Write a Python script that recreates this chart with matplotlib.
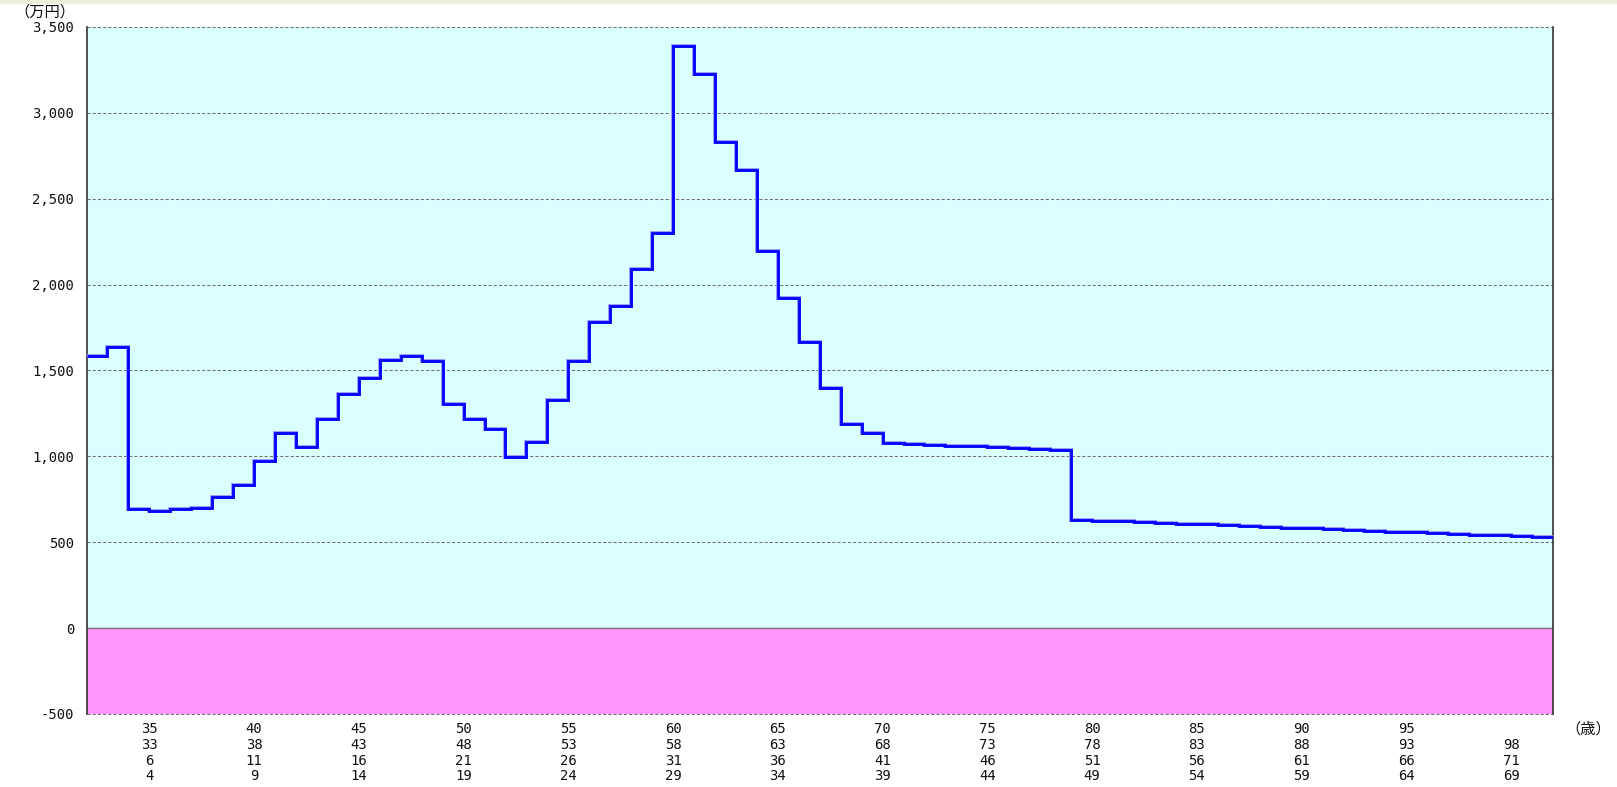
import matplotlib
matplotlib.use("Agg")
import matplotlib.pyplot as plt
import matplotlib.patheffects as pe
from matplotlib.patches import Rectangle
from matplotlib.transforms import blended_transform_factory

# one value per year, first step starts at age 32 (万円)
start_age = 32
balance = [1581, 1635, 695, 680, 695, 701, 762, 831, 974, 1134,
           1056, 1217, 1364, 1453, 1558, 1583, 1554, 1306, 1215, 1158,
           996, 1081, 1327, 1554, 1779, 1872, 2089, 2297, 3390, 3223,
           2829, 2669, 2194, 1920, 1663, 1395, 1186, 1134, 1079, 1070,
           1066, 1060, 1058, 1054, 1048, 1043, 1037, 628, 622, 621,
           618, 612, 606, 605, 599, 593, 587, 581, 580, 577,
           571, 566, 560, 558, 554, 548, 542, 540, 537, 529]

tick_ages = [35, 40, 45, 50, 55, 60, 65, 70, 75, 80, 85, 90, 95, 100]
row1 = ["35", "40", "45", "50", "55", "60", "65", "70", "75", "80", "85", "90", "95", ""]
row2 = ["33", "38", "43", "48", "53", "58", "63", "68", "73", "78", "83", "88", "93", "98"]
row3 = ["6", "11", "16", "21", "26", "31", "36", "41", "46", "51", "56", "61", "66", "71"]
row4 = ["4", "9", "14", "19", "24", "29", "34", "39", "44", "49", "54", "59", "64", "69"]
yticks = [-500, 0, 500, 1000, 1500, 2000, 2500, 3000, 3500]

LABEL_FONT = ["DejaVu Sans Mono"]
CJK_FONT = ["Noto Sans CJK JP", "DejaVu Sans"]

fig = plt.figure(figsize=(16.17, 7.87), dpi=100)
fig.patches.append(Rectangle((0, 1 - 3 / 787), 1, 3 / 787, transform=fig.transFigure,
                             color="#EEEEDC", zorder=0))
ax = fig.add_axes([0.0535, 0.0928, 0.9069, 0.8731])

edges = list(range(start_age, start_age + len(balance) + 1))
ax.set_xlim(edges[0], edges[-1])
ax.set_ylim(yticks[0], yticks[-1])

# plus / minus background
ax.axhspan(0, yticks[-1], color="#D9FFFF", zorder=0)
ax.axhspan(yticks[0], 0, color="#FF97FF", zorder=0)

for v in yticks:
    if v == 0:
        ax.axhline(v, color="#707070", lw=0.9, zorder=1)
    else:
        ax.axhline(v, color="#707070", lw=0.75, ls=(0, (3, 2)), zorder=1, clip_on=False)

ax.stairs(balance, edges, baseline=None, color="#0000FF", lw=2.0, zorder=3,
          path_effects=[pe.Stroke(linewidth=2.8, foreground="#9A9AFF"), pe.Normal()])

ax.set_xticks([])
ax.set_yticks(yticks)
ax.set_yticklabels(["{:,}".format(v) for v in yticks], fontsize=10, family=LABEL_FONT,
                   color="#111111")
ax.tick_params(axis="y", length=0, pad=9)
for s in ("top", "bottom"):
    ax.spines[s].set_visible(False)
for s in ("left", "right"):
    ax.spines[s].set_color("#333333")
    ax.spines[s].set_linewidth(1.2)

# four rows of ages under the axis
tr = blended_transform_factory(ax.transData, fig.transFigure)
row_y = [1 - 729 / 787, 1 - 744.6 / 787, 1 - 761 / 787, 1 - 776.5 / 787]
for y, row in zip(row_y, [row1, row2, row3, row4]):
    for a, lab in zip(tick_ages, row):
        ax.text(a, y, lab, transform=tr, ha="center", va="center", fontsize=10,
                family=LABEL_FONT, color="#111111")

fig.text(45 / 1617, 1 - 12 / 787, "（万円）", ha="center", va="center", fontsize=11,
         family=CJK_FONT, color="#111111")
fig.text(1588 / 1617, row_y[0], "（歳）", ha="center", va="center", fontsize=11,
         family=CJK_FONT, color="#111111")

fig.savefig("out.png", dpi=100)
